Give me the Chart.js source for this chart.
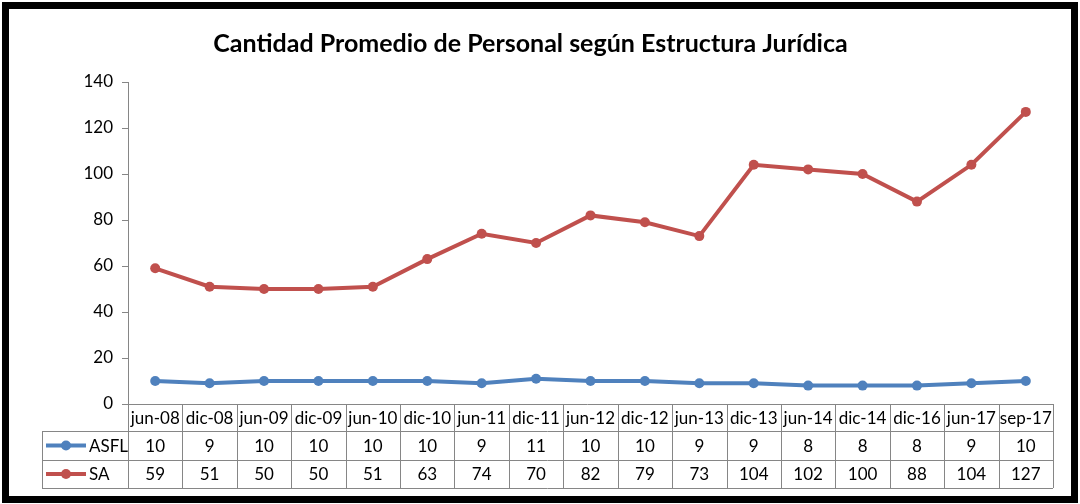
<!DOCTYPE html>
<html>
<head>
<meta charset="utf-8">
<script src="https://cdn.jsdelivr.net/npm/chart.js@4"></script>
<style>
  html, body { margin: 0; padding: 0; background: #fff; }
  #wrap { width: 1080px; height: 504px; position: relative; }
</style>
</head>
<body>
<div id="wrap"><canvas id="myLineChart" width="1080" height="504"></canvas></div>
<script>
// datos
var periodos = ['jun-08', 'dic-08', 'jun-09', 'dic-09', 'jun-10', 'dic-10', 'jun-11', 'dic-11', 'jun-12',
                'dic-12', 'jun-13', 'dic-13', 'jun-14', 'dic-14', 'dic-16', 'jun-17', 'sep-17'];
var asfl = [10, 9, 10, 10, 10, 10, 9, 11, 10, 10, 9, 9, 8, 8, 8, 9, 10];
var sa = [59, 51, 50, 50, 51, 63, 74, 70, 82, 79, 73, 104, 102, 100, 88, 104, 127];
var ticksY = [0, 20, 40, 60, 80, 100, 120, 140];

var azul = '#4F81BD';
var rojo = '#C0504D';
var fuente = 'Lato, Calibri, "Open Sans", sans-serif';

// marco negro alrededor del gráfico
var marco = {
  id: 'marco',
  beforeDraw: function(chart) {
    var ctx = chart.ctx;
    ctx.save();
    ctx.fillStyle = '#fff';
    ctx.fillRect(0, 0, chart.width, chart.height);
    ctx.strokeStyle = '#000';
    ctx.lineWidth = 7;
    ctx.strokeRect(5.5, 5.5, chart.width - 11, chart.height - 10);
    ctx.restore();
  }
};

// tabla de datos bajo el eje x
var tablaDatos = {
  id: 'tablaDatos',
  afterDraw: function(chart) {
    var ctx = chart.ctx;
    var area = chart.chartArea;
    var xs = chart.scales.x;
    var n = periodos.length;
    var colW = (area.right - area.left) / n;
    var y0 = area.bottom;
    var filas = [27, 29, 28];
    var y1 = y0 + filas[0], y2 = y1 + filas[1], y3 = y2 + filas[2];
    var legLeft = 42;

    ctx.save();
    ctx.strokeStyle = '#868686';
    ctx.lineWidth = 1;
    ctx.beginPath();
    // líneas verticales
    for (var i = 0; i <= n; i++) {
      var x = Math.round(area.left + i * colW) + 0.5;
      ctx.moveTo(x, y0);
      ctx.lineTo(x, y3);
    }
    ctx.moveTo(legLeft + 0.5, y1);
    ctx.lineTo(legLeft + 0.5, y3);
    // líneas horizontales
    [y1, y2, y3].forEach(function(y) {
      ctx.moveTo(legLeft, Math.round(y) + 0.5);
      ctx.lineTo(area.right, Math.round(y) + 0.5);
    });
    ctx.moveTo(area.left - 6, Math.round(y0) + 0.5);
    ctx.lineTo(area.right, Math.round(y0) + 0.5);
    ctx.stroke();

    ctx.fillStyle = '#000';
    ctx.font = '17px ' + fuente;
    ctx.textAlign = 'center';
    ctx.textBaseline = 'middle';
    for (var j = 0; j < n; j++) {
      var cx = xs.getPixelForValue(j);
      ctx.fillText(periodos[j], cx, (y0 + y1) / 2 + 1);
      ctx.fillText(String(asfl[j]), cx, (y1 + y2) / 2 + 1);
      ctx.fillText(String(sa[j]), cx, (y2 + y3) / 2 + 1);
    }

    // claves de la leyenda
    var series = chart.data.datasets;
    var yc = [(y1 + y2) / 2, (y2 + y3) / 2];
    series.forEach(function(ds, k) {
      ctx.strokeStyle = ds.borderColor;
      ctx.lineWidth = 4;
      ctx.beginPath();
      ctx.moveTo(46, yc[k]);
      ctx.lineTo(86, yc[k]);
      ctx.stroke();
      ctx.fillStyle = ds.borderColor;
      ctx.beginPath();
      ctx.arc(66, yc[k], 5, 0, Math.PI * 2);
      ctx.fill();
      ctx.fillStyle = '#000';
      ctx.textAlign = 'left';
      ctx.fillText(ds.label, 89, yc[k] + 1);
    });
    ctx.restore();
  }
};

var ctxLine = document.getElementById('myLineChart').getContext('2d');

var myLineChart = new Chart(ctxLine, {
  type: 'line',
  data: {
    labels: periodos,
    datasets: [{
      label: 'ASFL',
      data: asfl,
      borderColor: azul,
      backgroundColor: azul,
      borderWidth: 4,
      pointRadius: 5,
      pointBorderWidth: 0,
      tension: 0
    }, {
      label: 'SA',
      data: sa,
      borderColor: rojo,
      backgroundColor: rojo,
      borderWidth: 4,
      pointRadius: 5,
      pointBorderWidth: 0,
      tension: 0
    }]
  },
  options: {
    responsive: false,
    animation: false,
    layout: {
      padding: { left: 8, right: 27, top: 12, bottom: 100 }
    },
    plugins: {
      legend: { display: false },
      tooltip: { enabled: false },
      title: {
        display: true,
        text: 'Cantidad Promedio de Personal según Estructura Jurídica',
        color: '#000',
        font: { family: fuente, size: 25, weight: 'bold' },
        padding: { top: 17, bottom: 23 }
      }
    },
    scales: {
      x: {
        display: false,
        offset: true
      },
      y: {
        min: 0,
        max: 140,
        afterFit: function(s) { s.width = 120; },
        afterBuildTicks: function(s) {
          s.ticks = ticksY.map(function(v) { return { value: v }; });
        },
        ticks: {
          color: '#000',
          padding: 9,
          font: { family: fuente, size: 17 }
        },
        grid: {
          drawOnChartArea: false,
          tickLength: 6,
          color: '#868686'
        },
        border: { color: '#868686', width: 1 }
      }
    }
  },
  plugins: [marco, tablaDatos]
});
</script>
</body>
</html>
